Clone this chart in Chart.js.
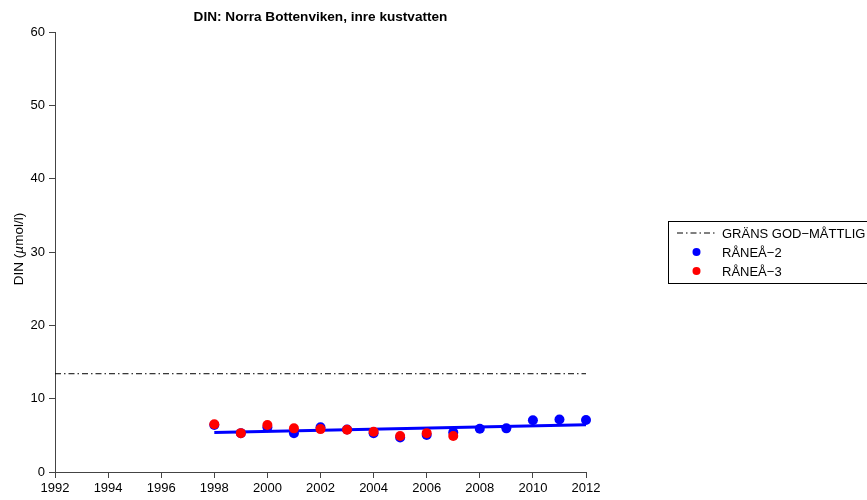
<!DOCTYPE html>
<html>
<head>
<meta charset="utf-8">
<script src="https://cdn.jsdelivr.net/npm/chart.js"></script>
<style>
  html, body { margin: 0; padding: 0; background: #fff; }
  #wrap { width: 867px; height: 500px; position: relative; }
</style>
</head>
<body>
<div id="wrap"><canvas id="chart" width="867" height="500"></canvas></div>
<script>
// Data
const years2 = [1998, 1999, 2000, 2001, 2002, 2003, 2004, 2005, 2006, 2007, 2008, 2009, 2010, 2011, 2012];
const ranea2 = [6.4, 5.3, 6.1, 5.3, 6.1, 5.8, 5.3, 4.7, 5.05, 5.4, 5.9, 5.95, 7.05, 7.15, 7.1];
const years3 = [1998, 1999, 2000, 2001, 2002, 2003, 2004, 2005, 2006, 2007];
const ranea3 = [6.5, 5.3, 6.4, 5.95, 5.85, 5.75, 5.5, 4.9, 5.3, 4.9];
const trendYears = [1998, 2012];
const trendValues = [5.37, 6.45];
const limitYears = [1992, 2012];
const limitValues = [13.4, 13.4];
const xTicks = [1992, 1994, 1996, 1998, 2000, 2002, 2004, 2006, 2008, 2010, 2012];
const yTicks = [0, 10, 20, 30, 40, 50, 60];

const FONT = '"Liberation Sans", Arial, Helvetica, sans-serif';
const toXY = (xs, ys) => xs.map((x, i) => ({ x: x, y: ys[i] }));

// title, y label and legend drawn by hand (R-style)
const decorations = {
  id: 'decorations',
  afterDraw(chart) {
    const ctx = chart.ctx;
    const area = chart.chartArea;
    ctx.save();
    ctx.fillStyle = '#000';

    // title over the plot
    ctx.font = 'bold 13.6px ' + FONT;
    ctx.textAlign = 'center';
    ctx.textBaseline = 'middle';
    ctx.fillText('DIN: Norra Bottenviken, inre kustvatten', (area.left + area.right) / 2, 17);

    // y axis label with italic mu
    ctx.save();
    ctx.translate(19, 249);
    ctx.rotate(-Math.PI / 2);
    const parts = [['DIN (', '13.5px ' + FONT], ['\u00b5', 'italic 13.5px ' + FONT], ['mol/l)', '13.5px ' + FONT]];
    let total = 0;
    parts.forEach(p => { ctx.font = p[1]; total += ctx.measureText(p[0]).width; });
    let px = -total / 2;
    ctx.textAlign = 'left';
    parts.forEach(p => { ctx.font = p[1]; ctx.fillText(p[0], px, 0); px += ctx.measureText(p[0]).width; });
    ctx.restore();

    // legend box
    ctx.strokeStyle = '#000';
    ctx.lineWidth = 1;
    ctx.strokeRect(668.5, 221.5, 230, 62);
    const rows = [233, 252, 271];
    const sets = [chart.data.datasets[3], chart.data.datasets[1], chart.data.datasets[0]];
    ctx.font = '13px ' + FONT;
    ctx.textAlign = 'left';
    ctx.textBaseline = 'middle';
    sets.forEach((ds, i) => {
      const y = rows[i];
      if (ds.borderDash) {
        ctx.beginPath();
        ctx.setLineDash(ds.borderDash);
        ctx.strokeStyle = ds.borderColor;
        ctx.moveTo(677, y);
        ctx.lineTo(716, y);
        ctx.stroke();
        ctx.setLineDash([]);
      } else {
        ctx.beginPath();
        ctx.fillStyle = ds.backgroundColor;
        ctx.arc(696.5, y, 4, 0, Math.PI * 2);
        ctx.fill();
      }
      ctx.fillStyle = '#000';
      ctx.fillText(ds.label, 722, y + 1);
    });
    ctx.restore();
  }
};

new Chart(document.getElementById('chart'), {
  type: 'scatter',
  data: {
    datasets: [
      {
        label: 'R\u00c5NE\u00c5\u22123',
        data: toXY(years3, ranea3),
        backgroundColor: '#ff0000',
        borderColor: '#ff0000',
        pointRadius: 5,
        borderWidth: 0,
        clip: false,
        order: 0
      },
      {
        label: 'R\u00c5NE\u00c5\u22122',
        data: toXY(years2, ranea2),
        backgroundColor: '#0000ff',
        borderColor: '#0000ff',
        pointRadius: 5,
        borderWidth: 0,
        clip: false,
        order: 1
      },
      {
        type: 'line',
        label: 'trend',
        data: toXY(trendYears, trendValues),
        borderColor: '#0000ff',
        borderWidth: 3,
        pointRadius: 0,
        fill: false,
        clip: false,
        order: 2
      },
      {
        type: 'line',
        label: 'GR\u00c4NS GOD\u2212M\u00c5TTLIG',
        data: toXY(limitYears, limitValues),
        borderColor: '#000',
        borderWidth: 1,
        borderDash: [6, 3, 1.5, 3],
        pointRadius: 0,
        fill: false,
        order: 3
      }
    ]
  },
  options: {
    responsive: false,
    animation: false,
    layout: { padding: { left: 0, top: 32, right: 281, bottom: 0 } },
    plugins: {
      legend: { display: false },
      title: { display: false },
      tooltip: { enabled: false }
    },
    scales: {
      x: {
        type: 'linear',
        min: 1992,
        max: 2012,
        afterBuildTicks: (s) => { s.ticks = xTicks.map(v => ({ value: v })); },
        afterFit: (s) => { s.height = 28; },
        ticks: {
          callback: (v) => String(v),
          color: '#000',
          font: { family: FONT, size: 13 },
          padding: 3,
          maxRotation: 0,
          autoSkip: false
        },
        grid: { drawOnChartArea: false, drawTicks: true, tickLength: 6, color: '#444' },
        border: { display: true, color: '#444' }
      },
      y: {
        min: 0,
        max: 60,
        afterBuildTicks: (s) => { s.ticks = yTicks.map(v => ({ value: v })); },
        afterFit: (s) => { s.width = 55; },
        ticks: {
          callback: (v) => String(v),
          color: '#000',
          font: { family: FONT, size: 13 },
          padding: 4,
          autoSkip: false
        },
        grid: { drawOnChartArea: false, drawTicks: true, tickLength: 6, color: '#444' },
        border: { display: true, color: '#444' }
      }
    }
  },
  plugins: [decorations]
});
</script>
</body>
</html>
